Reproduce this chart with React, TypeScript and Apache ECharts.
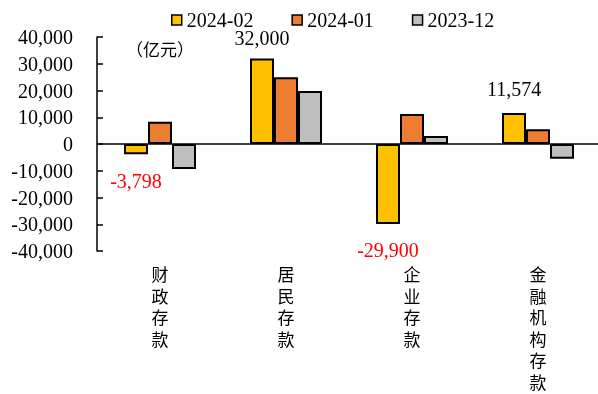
import React, { useEffect, useRef } from "react";
import * as echarts from "echarts";

const categories = ["财政存款", "居民存款", "企业存款", "金融机构存款"];
const seriesNames = ["2024-02", "2024-01", "2023-12"];
const feb2024 = [-3798, 32000, -29900, 11574];
const jan2024 = [8300, 25000, 11200, 5500];
const dec2023 = [-9300, 19800, 3000, -5500];
const colors = ["#FFC000", "#ED7D31", "#BFBFBF"];
const yTicks = { min: -40000, max: 40000, interval: 10000 };
const unitText = "（亿元）";

const serif = "Liberation Serif";
const cjk = "Noto Sans CJK SC";
const cjkLabel = "'Liberation Serif', 'Noto Sans CJK SC'";

function fmt(v: number) {
  return v.toLocaleString("en-US");
}

export default function App() {
  const ref = useRef<HTMLDivElement>(null);
  useEffect(() => {
    if (!ref.current) return;
    const chart = echarts.init(ref.current, null, { renderer: "svg" });
    const offsets: number[][] = [
      [0, 12],
      [0, -5],
      [0, 11],
      [0, -9],
    ];
    const febData = feb2024.map((v, i) => ({
      value: v,
      label: {
        show: true,
        position: v < 0 ? "bottom" : "top",
        offset: offsets[i],
        formatter: () => fmt(v),
        color: v < 0 ? "#FF0000" : "#000000",
        fontFamily: serif,
        fontSize: 20,
      },
    }));
    const mkSeries = (idx: number, data: any[], extra: any = {}) => ({
      type: "bar",
      name: seriesNames[idx],
      data,
      barWidth: 24,
      barGap: "0%",
      itemStyle: {
        color: colors[idx],
        borderColor: "#000000",
        borderWidth: 2,
        borderType: "solid",
        opacity: 1,
      },
      ...extra,
    });
    chart.setOption({
      animation: false,
      grid: {
        left: 97,
        top: 37,
        width: 504,
        bottom: 143,
        containLabel: false,
        outerBoundsMode: "none",
      },
      legend: {
        data: seriesNames,
        left: 166,
        top: 5,
        icon: "rect",
        itemWidth: 10,
        itemHeight: 10,
        itemGap: 38,
        itemStyle: { borderColor: "#000000", borderWidth: 1.5 },
        textStyle: { fontFamily: serif, fontSize: 20, color: "#000" },
      },
      xAxis: {
        type: "category",
        data: categories,
        axisLine: { show: false, onZero: false },
        axisTick: { show: false },
        axisLabel: {
          margin: 14,
          fontFamily: cjkLabel,
          fontSize: 17,
          lineHeight: 21.5,
          color: "#000",
          formatter: (s: string) => s.split("").join("\n"),
        },
      },
      yAxis: {
        type: "value",
        min: yTicks.min,
        max: yTicks.max,
        interval: yTicks.interval,
        splitLine: { show: false },
        axisLine: { show: true, lineStyle: { color: "#000", width: 1.5 } },
        axisTick: { show: true, inside: true, length: 6, lineStyle: { color: "#000", width: 1.5 } },
        axisLabel: {
          margin: 24,
          fontFamily: serif,
          fontSize: 20,
          color: "#000",
          formatter: (v: number) => fmt(v),
        },
      },
      graphic: [
        {
          type: "text",
          left: 126,
          top: 40,
          style: { text: unitText, fontFamily: cjk, fontSize: 17, fill: "#000" },
        },
      ],
      series: [
        mkSeries(0, febData, {
          markLine: {
            silent: true,
            symbol: "none",
            label: { show: false },
            lineStyle: { color: "#000", width: 1.5, type: "solid" },
            data: [{ yAxis: 0 }],
          },
        }),
        mkSeries(1, jan2024),
        mkSeries(2, dec2023),
      ],
    });
    return () => chart.dispose();
  }, []);
  return (
    <div
      ref={ref}
      style={{ position: "fixed", left: 0, top: 0, width: 598, height: 394 }}
    />
  );
}
